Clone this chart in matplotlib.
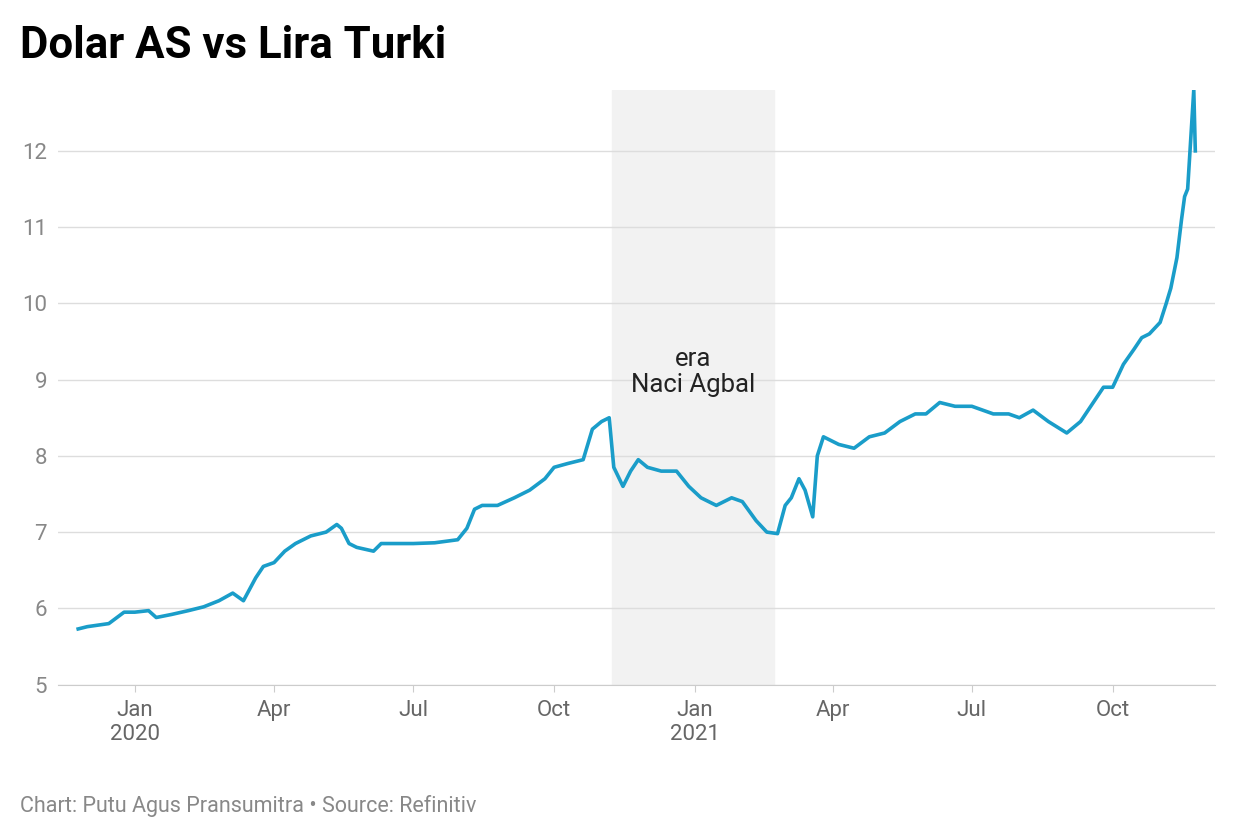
#!/usr/bin/env python3
import matplotlib
matplotlib.use("Agg")
import matplotlib.pyplot as plt
import matplotlib.dates as mdates
import pandas as pd

plt.rcParams["font.family"] = "Roboto"

DATES = [
    "2019-11-25", "2019-12-01", "2019-12-15", "2019-12-25", "2020-01-01", "2020-01-10",
    "2020-01-15", "2020-01-25", "2020-02-05", "2020-02-15", "2020-02-25", "2020-03-05",
    "2020-03-12", "2020-03-20", "2020-03-25", "2020-04-01", "2020-04-08", "2020-04-15",
    "2020-04-25", "2020-05-05", "2020-05-12", "2020-05-15", "2020-05-20", "2020-05-25",
    "2020-06-05", "2020-06-10", "2020-06-20", "2020-07-01", "2020-07-15", "2020-07-30",
    "2020-08-05", "2020-08-10", "2020-08-15", "2020-08-25", "2020-09-05", "2020-09-15",
    "2020-09-25", "2020-10-01", "2020-10-10", "2020-10-20", "2020-10-26", "2020-11-01",
    "2020-11-06", "2020-11-09", "2020-11-15", "2020-11-20", "2020-11-25", "2020-12-01",
    "2020-12-10", "2020-12-20", "2020-12-28", "2021-01-05", "2021-01-15", "2021-01-25",
    "2021-02-01", "2021-02-10", "2021-02-17", "2021-02-24", "2021-03-01", "2021-03-05",
    "2021-03-10", "2021-03-14", "2021-03-19", "2021-03-22", "2021-03-26", "2021-04-05",
    "2021-04-15", "2021-04-25", "2021-05-05", "2021-05-15", "2021-05-25", "2021-06-01",
    "2021-06-10", "2021-06-20", "2021-07-01", "2021-07-15", "2021-07-25", "2021-08-01",
    "2021-08-10", "2021-08-20", "2021-09-01", "2021-09-10", "2021-09-20", "2021-09-25",
    "2021-10-01", "2021-10-08", "2021-10-15", "2021-10-20", "2021-10-25", "2021-11-01",
    "2021-11-05", "2021-11-08", "2021-11-12", "2021-11-15", "2021-11-17", "2021-11-19",
    "2021-11-23", "2021-11-24",
]
USD_TRY = [
    5.73, 5.76, 5.80, 5.95, 5.95, 5.97,
    5.88, 5.92, 5.97, 6.02, 6.10, 6.20,
    6.10, 6.40, 6.55, 6.60, 6.75, 6.85,
    6.95, 7.00, 7.10, 7.05, 6.85, 6.80,
    6.75, 6.85, 6.85, 6.85, 6.86, 6.90,
    7.05, 7.30, 7.35, 7.35, 7.45, 7.55,
    7.70, 7.85, 7.90, 7.95, 8.35, 8.45,
    8.50, 7.85, 7.60, 7.80, 7.95, 7.85,
    7.80, 7.80, 7.60, 7.45, 7.35, 7.45,
    7.40, 7.15, 7.00, 6.98, 7.35, 7.45,
    7.70, 7.55, 7.20, 8.00, 8.25, 8.15,
    8.10, 8.25, 8.30, 8.45, 8.55, 8.55,
    8.70, 8.65, 8.65, 8.55, 8.55, 8.50,
    8.60, 8.45, 8.30, 8.45, 8.75, 8.90,
    8.90, 9.20, 9.40, 9.55, 9.60, 9.75,
    10.0, 10.2, 10.6, 11.1, 11.4, 11.5,
    12.8, 12.0,
]
ERA_START, ERA_END = "2020-11-08", "2021-02-22"
ERA_LABEL = "era\nNaci Agbal"
TITLE = "Dolar AS vs Lira Turki"
SOURCE = "Chart: Putu Agus Pransumitra • Source: Refinitiv"

dates = pd.to_datetime(DATES)
fig = plt.figure(figsize=(12.4, 8.4), dpi=100)
ax = fig.add_axes([0.047, 0.185, 0.933, 0.708])

ax.axvspan(pd.Timestamp(ERA_START), pd.Timestamp(ERA_END), color="#f2f2f2", zorder=0)
mid = pd.Timestamp(ERA_START) + (pd.Timestamp(ERA_END) - pd.Timestamp(ERA_START)) / 2
ax.text(mid, 9.1, ERA_LABEL, ha="center", va="center", fontsize=18.5, color="#222222",
        linespacing=1.1)
ax.plot(dates, USD_TRY, color="#1a9dc9", linewidth=2.6, zorder=3)

ax.set_xlim(pd.Timestamp("2019-11-12"), pd.Timestamp("2021-12-07"))
ax.set_ylim(5, 12.8)
ax.set_yticks(range(5, 13))
ax.grid(axis="y", color="#dddddd", linewidth=1)
ax.set_axisbelow(True)
for s in ("top", "right", "left"):
    ax.spines[s].set_visible(False)
ax.spines["bottom"].set_color("#cccccc")

ax.xaxis.set_major_locator(mdates.MonthLocator(bymonth=[1, 4, 7, 10]))
ax.xaxis.set_major_formatter(
    plt.FuncFormatter(lambda v, p: (lambda d: d.strftime("%b") + (f"\n{d.year}" if d.month == 1 else ""))(mdates.num2date(v)))
)
ax.tick_params(axis="x", length=5, color="#cccccc", labelsize=16, labelcolor="#666666", pad=6)
ax.tick_params(axis="y", length=0, labelsize=16, labelcolor="#888888", pad=8)

fig.text(0.016, 0.945, TITLE, fontsize=31.5, fontweight="bold", va="center")
fig.text(0.016, 0.04, SOURCE, fontsize=15.5, color="#888888", va="center")

fig.savefig("out.png", dpi=100)
